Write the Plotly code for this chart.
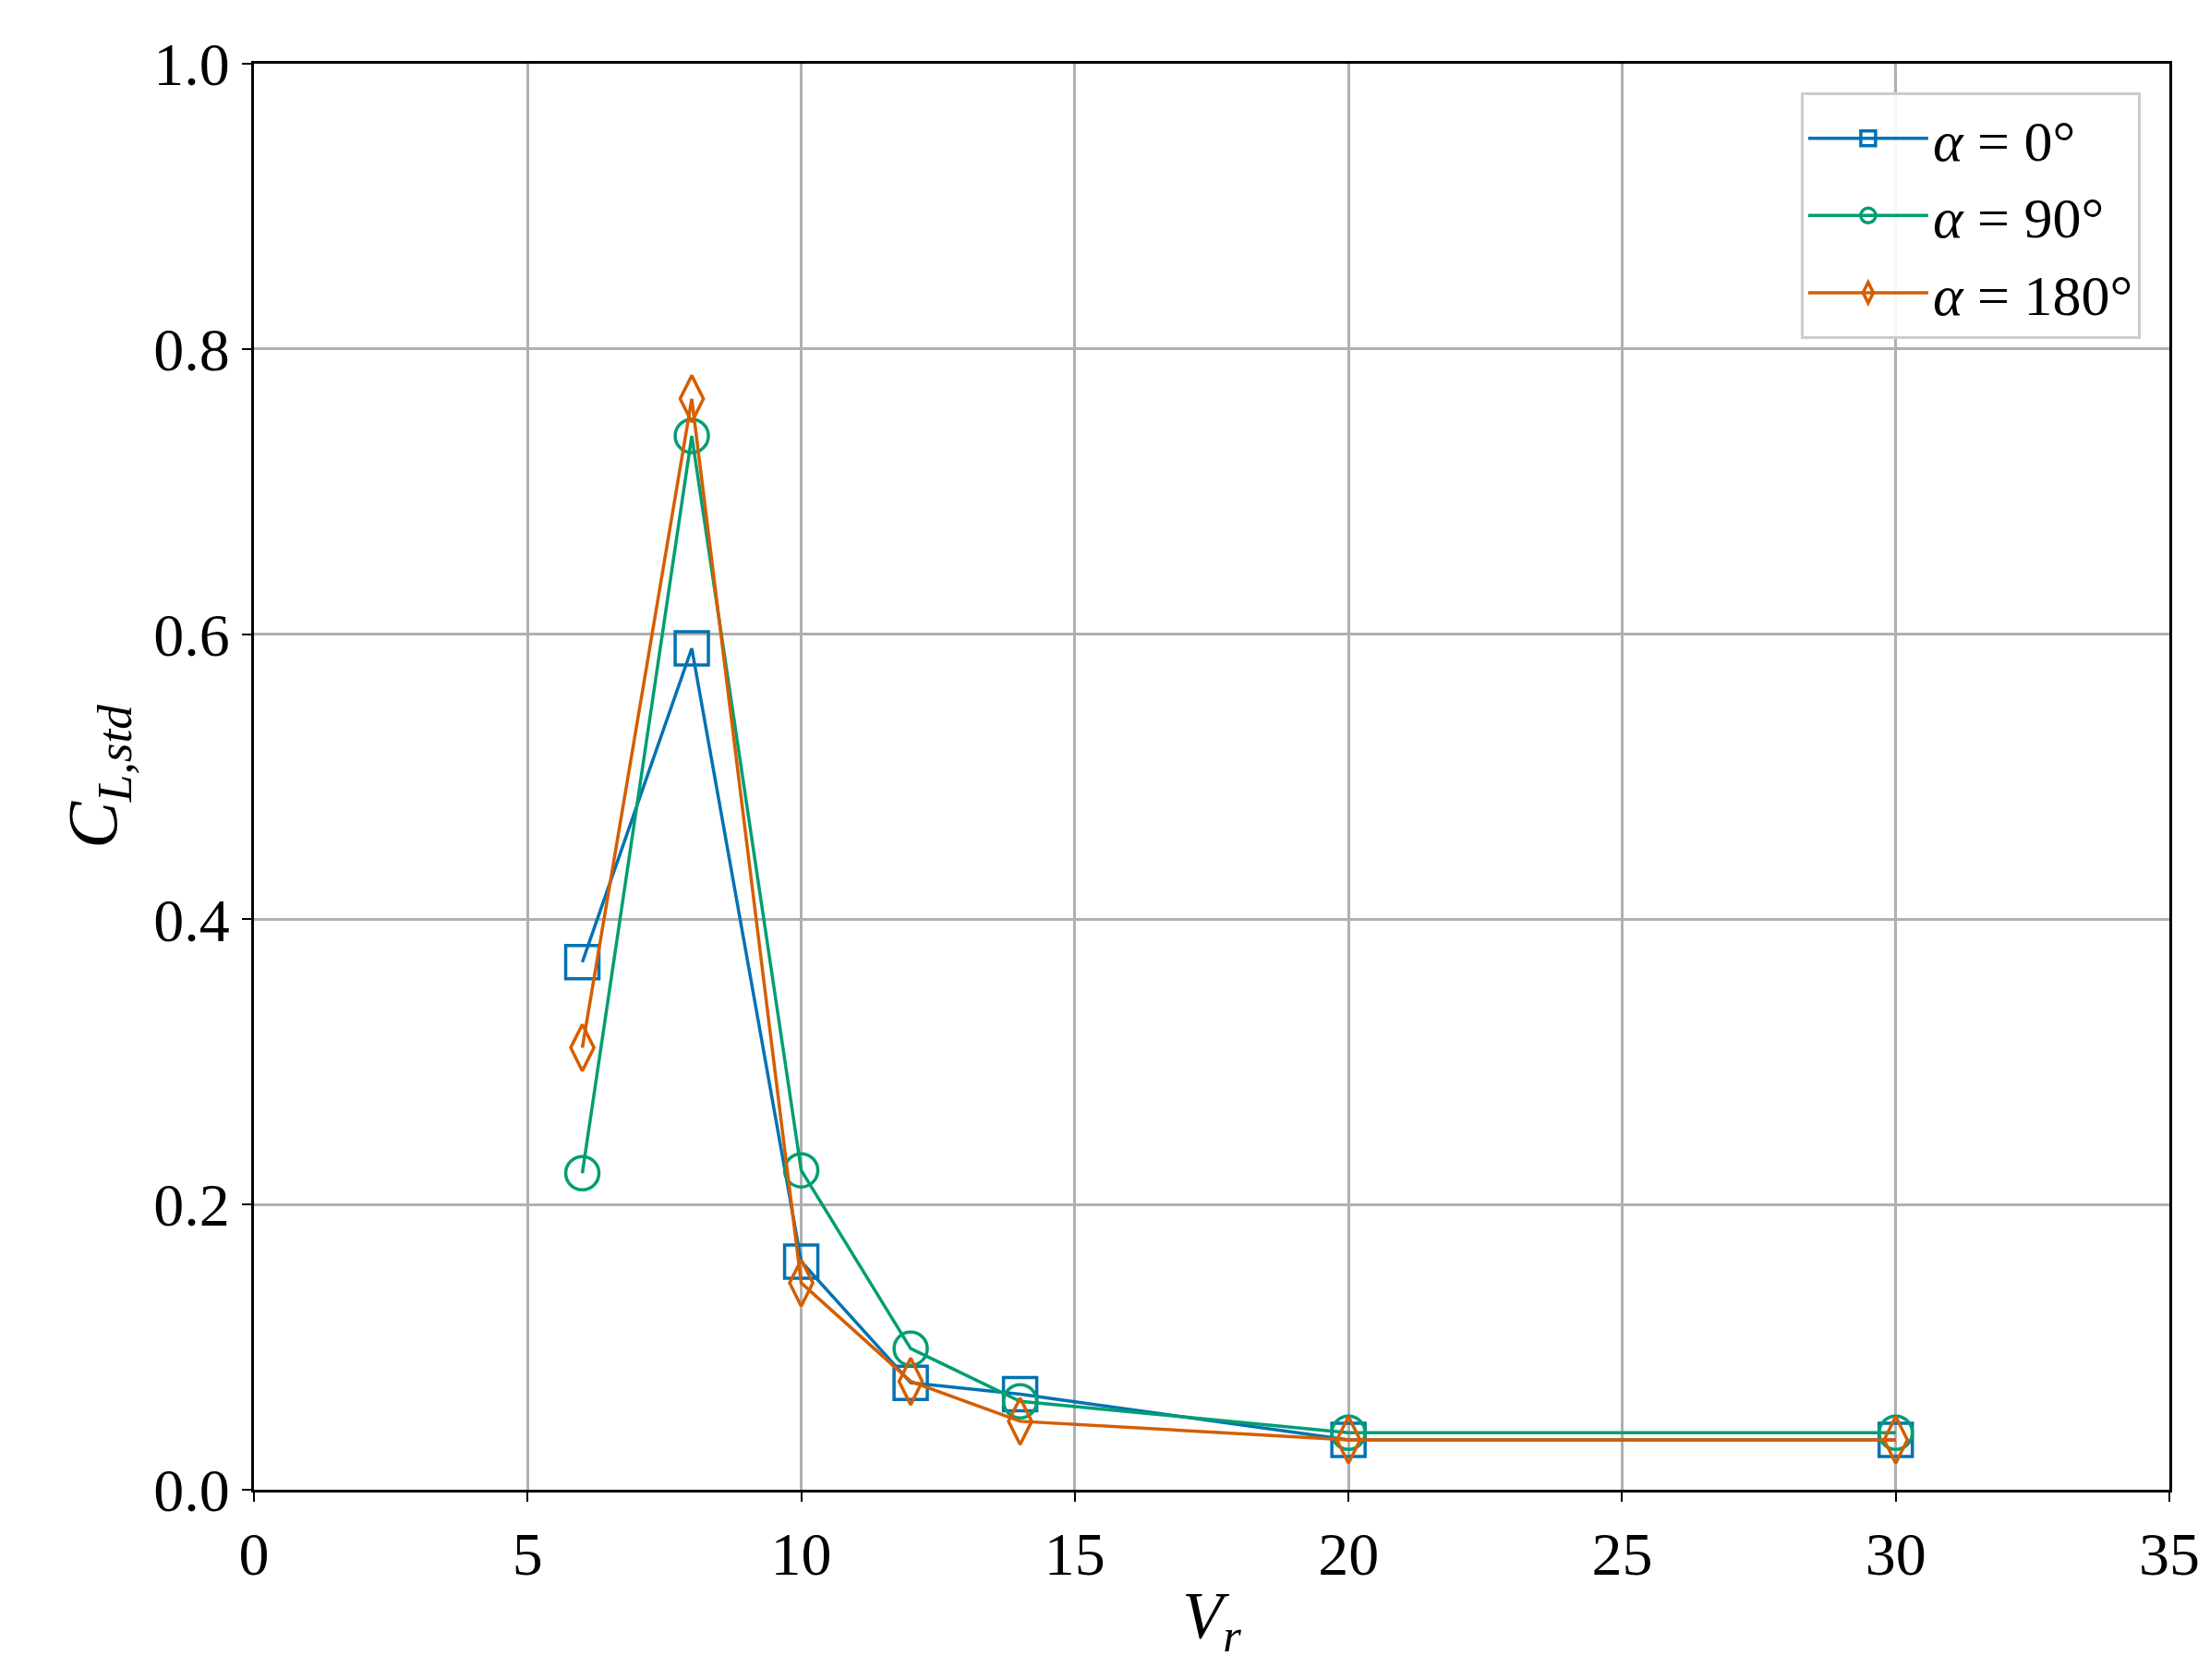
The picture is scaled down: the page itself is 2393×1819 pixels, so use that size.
import plotly.graph_objects as go

vr = [6, 8, 10, 12, 14, 20, 30]
cl_0 = [0.37, 0.59, 0.16, 0.075, 0.067, 0.035, 0.035]
cl_90 = [0.222, 0.739, 0.224, 0.099, 0.062, 0.040, 0.040]
cl_180 = [0.31, 0.765, 0.145, 0.076, 0.048, 0.035, 0.035]

series = [
    ("<i>α</i> = 0°", cl_0, "#0072B2", "square-open"),
    ("<i>α</i> = 90°", cl_90, "#009E73", "circle-open"),
    ("<i>α</i> = 180°", cl_180, "#D55E00", "diamond-tall-open"),
]

FONT = "Liberation Serif"
fig = go.Figure()
for name, y, c, sym in series:
    fig.add_trace(go.Scatter(
        x=vr, y=y, name=name, mode="lines+markers",
        line=dict(color=c, width=3.5),
        marker=dict(symbol=sym, size=36, color=c, line=dict(color=c, width=3.5)),
    ))

axis_common = dict(
    showgrid=True, gridcolor="#b0b0b0", gridwidth=2.5,
    showline=True, linecolor="black", linewidth=3, mirror=True,
    ticks="outside", ticklen=10, tickwidth=2, tickcolor="black",
    zeroline=False, tickfont=dict(family=FONT, size=66, color="black"),
)
fig.update_xaxes(range=[0, 35], dtick=5, **axis_common,
                 title=dict(text="<i>V</i><sub><i>r</i></sub>", font=dict(family=FONT, size=72), standoff=5))
fig.update_yaxes(range=[0, 1.0], dtick=0.2, tickformat=".1f", **axis_common,
                 title=dict(text="<i>C</i><sub><i>L,std</i></sub>", font=dict(family=FONT, size=76), standoff=15))

fig.update_layout(
    width=2393, height=1819,
    margin=dict(l=267, r=52, t=61, b=214),
    plot_bgcolor="white", paper_bgcolor="white",
    font=dict(family=FONT, color="black"),
    legend=dict(x=0.985, y=0.98, xanchor="right", yanchor="top",
                bgcolor="rgba(255,255,255,0.9)", bordercolor="#cccccc", borderwidth=3,
                font=dict(family=FONT, size=62), itemwidth=130, tracegroupgap=20),
)
fig.write_html("out.html")
